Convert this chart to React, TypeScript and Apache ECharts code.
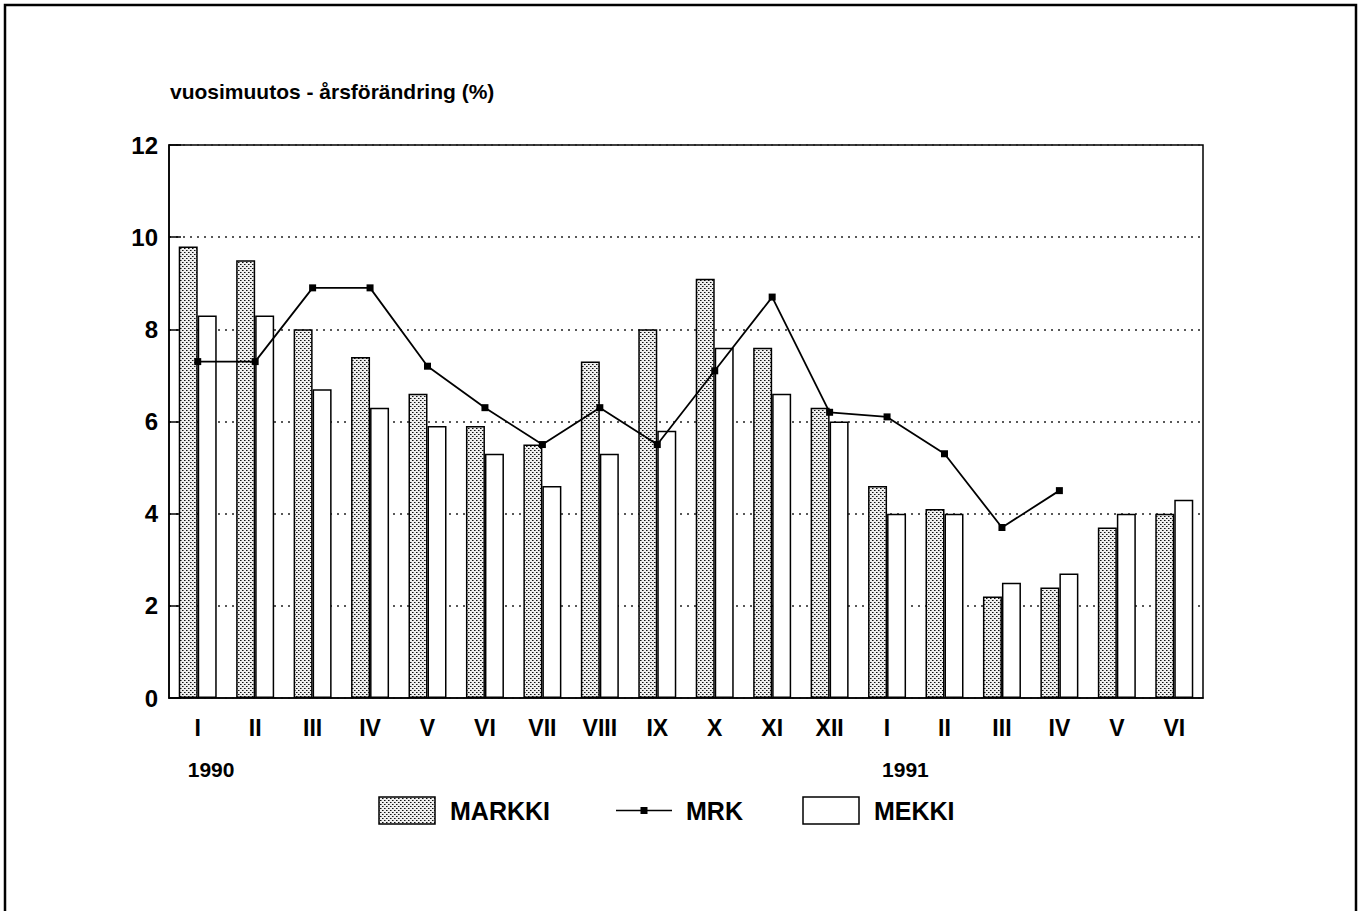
import React, { useEffect, useRef } from "react";
import * as echarts from "echarts";

const months = ["I", "II", "III", "IV", "V", "VI", "VII", "VIII", "IX", "X", "XI", "XII", "I", "II", "III", "IV", "V", "VI"];
const markki = [9.8, 9.5, 8.0, 7.4, 6.6, 5.9, 5.5, 7.3, 8.0, 9.1, 7.6, 6.3, 4.6, 4.1, 2.2, 2.4, 3.7, 4.0];
const mekki = [8.3, 8.3, 6.7, 6.3, 5.9, 5.3, 4.6, 5.3, 5.8, 7.6, 6.6, 6.0, 4.0, 4.0, 2.5, 2.7, 4.0, 4.3];
const mrk: (number | null)[] = [7.3, 7.3, 8.9, 8.9, 7.2, 6.3, 5.5, 6.3, 5.5, 7.1, 8.7, 6.2, 6.1, 5.3, 3.7, 4.5, null, null];
const yearLabels = [
  { text: "1990", index: 0 },
  { text: "1991", index: 12 },
];
const titleText = "vuosimuutos - årsförändring (%)";
const seriesNames = ["MARKKI", "MRK", "MEKKI"];

const FONT = "'Liberation Sans', Arial, Helvetica, sans-serif";

function makePattern(): HTMLCanvasElement {
  const c = document.createElement("canvas");
  c.width = 4;
  c.height = 4;
  const ctx = c.getContext("2d")!;
  ctx.fillStyle = "#eeeeee";
  ctx.fillRect(0, 0, 4, 4);
  ctx.fillStyle = "#111";
  ctx.fillRect(0, 0, 1, 1);
  ctx.fillRect(2, 2, 1, 1);
  ctx.fillStyle = "#777";
  ctx.fillRect(1, 0, 1, 1);
  ctx.fillRect(3, 2, 1, 1);
  return c;
}

export default function App() {
  const ref = useRef<HTMLDivElement>(null);
  useEffect(() => {
    if (!ref.current) return;
    const chart = echarts.init(ref.current, undefined, { renderer: "svg" });
    const pattern = { image: makePattern(), repeat: "repeat" as const };

    const gridLeft = 169;
    const gridRight = 1203;
    const gridTop = 145;
    const gridBottom = 698;

    chart.setOption({
      animation: false,
      backgroundColor: "#ffffff",
      textStyle: { fontFamily: FONT },
      title: {
        text: titleText,
        left: 165,
        top: 76,
        textStyle: { fontFamily: FONT, fontSize: 21, fontWeight: "bold", color: "#000" },
      },
      grid: {
        left: gridLeft,
        right: 1364 - gridRight,
        top: gridTop,
        bottom: 911 - gridBottom,
        show: true,
        borderColor: "#000",
        borderWidth: 1.5,
        backgroundColor: "transparent",
      },
      xAxis: {
        type: "category",
        data: months,
        axisLine: { show: true, lineStyle: { color: "#000", width: 1.5 } },
        axisTick: { show: false },
        axisLabel: { color: "#000", fontSize: 23, fontWeight: "bold", fontFamily: FONT, margin: 18, interval: 0 },
        splitLine: { show: false },
      },
      yAxis: {
        type: "value",
        min: 0,
        max: 12,
        interval: 2,
        axisLine: { show: true, lineStyle: { color: "#000", width: 1.5 } },
        axisTick: { show: true, inside: true, length: 12, lineStyle: { color: "#000", width: 1.5 } },
        axisLabel: { color: "#000", fontSize: 24, fontWeight: "bold", fontFamily: FONT, margin: 11 },
        splitLine: { show: true, lineStyle: { color: "#222", width: 1.5, type: [2, 5] } },
      },
      series: [
        {
          name: seriesNames[0],
          type: "bar",
          data: markki,
          barWidth: 19,
          barGap: "0%",
          itemStyle: { color: pattern, borderColor: "#000", borderWidth: 1.5 },
          z: 2,
        },
        {
          name: seriesNames[2],
          type: "bar",
          data: mekki,
          barWidth: 19,
          barGap: "0%",
          itemStyle: { color: "#fff", borderColor: "#000", borderWidth: 1.5 },
          z: 2,
        },
        {
          name: seriesNames[1],
          type: "line",
          data: mrk,
          symbol: "rect",
          symbolSize: 7,
          connectNulls: false,
          lineStyle: { color: "#000", width: 1.8 },
          itemStyle: { color: "#000" },
          z: 5,
        },
      ],
    });

    const yearGraphics = yearLabels.map((y) => {
      const px = chart.convertToPixel({ xAxisIndex: 0 }, y.index) as number;
      return {
        type: "text",
        left: px - (y.index === 0 ? 10 : 5),
        top: 759,
        style: { text: y.text, fontSize: 21, fontWeight: "bold", fontFamily: FONT, fill: "#000" },
      };
    });

    const legendY = 797;
    const legendH = 27;
    const legendGraphics: any[] = [
      {
        type: "rect",
        shape: { x: 379, y: legendY, width: 56, height: legendH },
        style: { fill: pattern as any, stroke: "#000", lineWidth: 1.5 },
      },
      {
        type: "text",
        x: 450,
        y: legendY + legendH / 2,
        style: { text: seriesNames[0], fontSize: 25, fontWeight: "bold", fontFamily: FONT, fill: "#000", verticalAlign: "middle" },
      },
      {
        type: "line",
        shape: { x1: 616, y1: legendY + legendH / 2, x2: 672, y2: legendY + legendH / 2 },
        style: { stroke: "#000", lineWidth: 1.5 },
      },
      {
        type: "rect",
        shape: { x: 640.5, y: legendY + legendH / 2 - 3.5, width: 7, height: 7 },
        style: { fill: "#000" },
      },
      {
        type: "text",
        x: 686,
        y: legendY + legendH / 2,
        style: { text: seriesNames[1], fontSize: 25, fontWeight: "bold", fontFamily: FONT, fill: "#000", verticalAlign: "middle" },
      },
      {
        type: "rect",
        shape: { x: 803, y: legendY, width: 56, height: legendH },
        style: { fill: "#fff", stroke: "#000", lineWidth: 1.5 },
      },
      {
        type: "text",
        x: 874,
        y: legendY + legendH / 2,
        style: { text: seriesNames[2], fontSize: 25, fontWeight: "bold", fontFamily: FONT, fill: "#000", verticalAlign: "middle" },
      },
    ];

    chart.setOption({
      graphic: [
        {
          type: "rect",
          shape: { x: 5, y: 5, width: 1351, height: 920 },
          style: { fill: "none", stroke: "#000", lineWidth: 2.5 },
          silent: true,
        },
        ...yearGraphics,
        ...legendGraphics,
      ],
    });

    return () => {
      chart.dispose();
    };
  }, []);

  return (
    <div
      ref={ref}
      style={{ position: "fixed", left: 0, top: 0, width: 1364, height: 911, background: "#fff" }}
    />
  );
}
